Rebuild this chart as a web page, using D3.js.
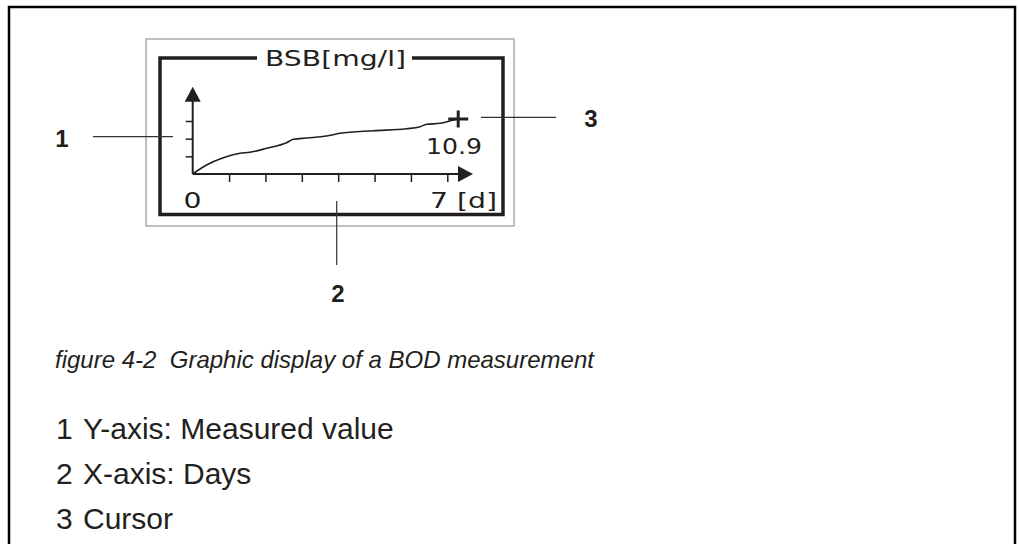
<!DOCTYPE html>
<html>
<head>
<meta charset="utf-8">
<script src="https://d3js.org/d3.v7.min.js"></script>
<style>
  body { margin: 0; background: #fff; }
  svg { display: block; }
  text { white-space: pre; }
</style>
</head>
<body>
<svg width="1019" height="544"></svg>
<script>
  const days = [0, 0.38, 0.84, 1.30, 1.57, 2.03, 2.58, 2.77, 3.13, 3.68, 4.05, 4.97, 5.88, 6.25, 6.43, 6.80, 7.17, 7.3];
  const bsb  = [0, 1.78, 3.23, 4.10, 4.30, 5.09, 6.20, 6.87, 7.13, 7.52, 8.06, 8.57, 8.97, 9.37, 9.84, 10.04, 10.7, 10.9];
  const xTicks = [1, 2, 3, 4, 5, 6, 7];
  const yTicks = [3.5, 7, 10.5];
  const cursorDay = 7.3, cursorValue = 10.9;
  const title = 'BSB[mg/l]';
  const xLabels = ['0', '7 [d]'];
  const caption = 'figure 4-2  Graphic display of a BOD measurement';
  const legendNums = ['1', '2', '3'];
  const legendText = ['Y-axis: Measured value', 'X-axis: Days', 'Cursor'];

  const svg = d3.select('svg');
  const ink = '#231f20';
  const lcd = 'DejaVu Sans, Verdana, sans-serif';
  const arial = 'Liberation Sans, Arial, sans-serif';

  // page frame (open at the bottom)
  svg.append('path')
    .attr('d', 'M9,544 V7 H1015 V544')
    .attr('fill', 'none').attr('stroke', '#000').attr('stroke-width', 2.5);

  // grey display border + black inner border
  svg.append('rect').attr('x', 146).attr('y', 39).attr('width', 368).attr('height', 187)
    .attr('fill', 'none').attr('stroke', '#aaa').attr('stroke-width', 1.5);
  svg.append('rect').attr('x', 160).attr('y', 58).attr('width', 343).attr('height', 156.5)
    .attr('fill', 'none').attr('stroke', ink).attr('stroke-width', 3.5);
  svg.append('rect').attr('x', 257).attr('y', 52).attr('width', 155).attr('height', 12).attr('fill', '#fff');

  // the display font is wide, so stretch DejaVu to the measured widths
  const lcdText = (tx, ty, str, len) => svg.append('text')
    .attr('x', tx).attr('y', ty)
    .attr('font-family', lcd).attr('font-size', 22).attr('fill', ink)
    .attr('textLength', len).attr('lengthAdjust', 'spacingAndGlyphs')
    .text(str);

  lcdText(265, 66, title, 141);

  const x = d3.scaleLinear().domain([0, 7]).range([192.7, 447.3]);
  const y = d3.scaleLinear().domain([0, 10.5]).range([174, 121]);

  const xAxis = svg.append('g').attr('transform', 'translate(0,174)')
    .call(d3.axisBottom(x).tickValues(xTicks).tickSize(8).tickFormat(''));
  const yAxis = svg.append('g').attr('transform', 'translate(192.7,0)')
    .call(d3.axisLeft(y).tickValues(yTicks).tickSize(7).tickFormat(''));
  [xAxis, yAxis].forEach(g => {
    g.select('.domain').remove();
    g.selectAll('line').attr('stroke', ink).attr('stroke-width', 1.5);
  });

  // axis lines with arrow heads
  svg.append('line').attr('x1', x(0)).attr('x2', 460).attr('y1', y(0)).attr('y2', y(0))
    .attr('stroke', ink).attr('stroke-width', 2);
  svg.append('path').attr('d', `M458,166 L473,174 L458,182 Z`).attr('fill', ink);
  svg.append('line').attr('x1', x(0)).attr('x2', x(0)).attr('y1', y(0)).attr('y2', 100)
    .attr('stroke', ink).attr('stroke-width', 2);
  svg.append('path').attr('d', `M184.7,101.7 L192.7,86.7 L200.7,101.7 Z`).attr('fill', ink);

  // measured curve
  const pts = days.map((d, i) => [d, bsb[i]]);
  svg.append('path').datum(pts)
    .attr('d', d3.line().x(d => x(d[0])).y(d => y(d[1])).curve(d3.curveMonotoneX))
    .attr('fill', 'none').attr('stroke', ink).attr('stroke-width', 1.6);

  // cursor
  const cx = x(cursorDay), cy = y(cursorValue);
  svg.append('path').attr('d', `M${cx - 10},${cy} H${cx + 10} M${cx},${cy - 8.5} V${cy + 8.5}`)
    .attr('stroke', ink).attr('stroke-width', 3);
  lcdText(426, 153.5, String(cursorValue), 56);

  lcdText(183.5, 207.5, xLabels[0], 18);
  lcdText(430, 207.5, xLabels[1], 67);

  // callouts
  const lead = '#333';
  svg.append('line').attr('x1', 93).attr('x2', 173).attr('y1', 136.7).attr('y2', 136.7)
    .attr('stroke', lead).attr('stroke-width', 1.2);
  svg.append('line').attr('x1', 481).attr('x2', 556).attr('y1', 117.3).attr('y2', 117.3)
    .attr('stroke', lead).attr('stroke-width', 1.2);
  svg.append('line').attr('x1', 336.7).attr('x2', 336.7).attr('y1', 201).attr('y2', 265)
    .attr('stroke', lead).attr('stroke-width', 1.2);

  const callPos = [[62, 147], [338, 302], [591, 127]];
  svg.selectAll('text.call').data(legendNums).enter().append('text')
    .attr('class', 'call')
    .attr('x', (d, i) => callPos[i][0]).attr('y', (d, i) => callPos[i][1])
    .attr('text-anchor', 'middle')
    .attr('font-family', arial).attr('font-weight', 'bold').attr('font-size', 24)
    .attr('fill', ink).text(d => d);

  svg.append('text').attr('x', 55).attr('y', 368)
    .attr('font-family', arial).attr('font-style', 'italic').attr('font-size', 24)
    .attr('fill', ink).text(caption);

  const rows = svg.selectAll('g.item').data(legendText).enter().append('g')
    .attr('class', 'item')
    .attr('transform', (d, i) => `translate(0,${438.5 + i * 45})`);
  rows.append('text').attr('x', 56).text((d, i) => legendNums[i]);
  rows.append('text').attr('x', 83).text(d => d);
  rows.selectAll('text')
    .attr('font-family', arial).attr('font-size', 30).attr('fill', ink);
</script>
</body>
</html>
